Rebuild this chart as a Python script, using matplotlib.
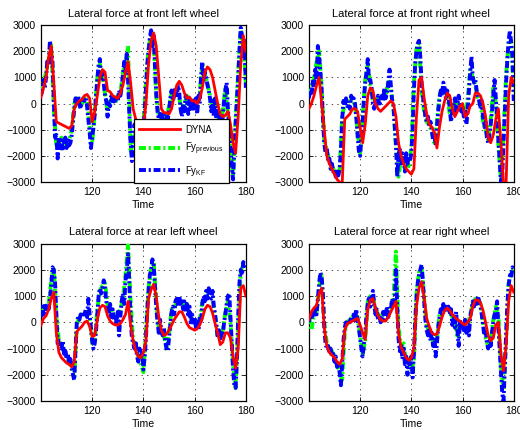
import numpy as np
import matplotlib
matplotlib.use("Agg")
import matplotlib.pyplot as plt

plt.rcParams['font.family'] = ['Liberation Sans', 'DejaVu Sans']
plt.rcParams['mathtext.fontset'] = 'custom'
plt.rcParams['mathtext.rm'] = 'Liberation Sans'
plt.rcParams['mathtext.it'] = 'Liberation Sans'
plt.rcParams['lines.scale_dashes'] = False

titles = ['Lateral force at front left wheel', 'Lateral force at front right wheel',
          'Lateral force at rear left wheel', 'Lateral force at rear right wheel']
legend_labels = ['DYNA', r'Fy$_{\mathrm{previous}}$', r'Fy$_{\mathrm{KF}}$']
x_ticks = [120, 140, 160, 180]
y_ticks = [-3000, -2000, -1000, 0, 1000, 2000, 3000]

# DYNA reference (1 s grid, t = 100..180)
dyna_fl = [250, 600, 1000, 1800, 2200, 800, -700, -750, -800, -850, -900, -950, -850, -200, 0, 100, 150, 300, 350, 200,
           -700, -300, 300, 1000, 1300, 1200, 500, 450, 300, 250, 200, 400, 700, 1200, 1600, 800, -200, -600, -900, -1000,
           -900, 0, 1500, 2400, 2700, 2200, 1000, -200, -350, -350, -400, -200, 300, 700, 850, 700, 400, 200, 250, 100,
           100, 0, 200, 600, 1200, 1400, 1300, 1000, 500, 0, -400, -500, -450, -300, -800, -1500, -1900, -500, 1500, 2600,
           2000]
dyna_fr = [-200, 0, 300, 700, 1000, 0, -1000, -2000, -2300, -2500, -2700, -2900, -3000, -3100, -600, -500, -400, -200, -200, -300,
           -900, -1500, -800, 300, 600, 500, 0, -200, -300, -200, -100, 0, 100, 0, -500, -1500, -2000, -2300, -2500, -2600,
           -2700, -2500, -500, 900, 1000, 200, -400, -800, -900, -1100, -1700, -900, -300, 100, 400, 300, -200, -500, -300, -100,
           0, -500, -400, -100, 0, 400, 400, 300, 0, -500, -1300, -1500, -1200, -600, -200, -1500, -3100, -3100, 300, 1000,
           800]
dyna_rl = [-100, 150, 250, 500, 900, 1150, -400, -1150, -1350, -1450, -1550, -1600, -1700, -1500, -350, -250, -150, 0, 50, -150,
           -550, -500, 100, 550, 650, 600, 250, 50, -50, -100, -100, -50, 100, 300, 800, -100, -700, -1100, -1300, -1350,
           -1150, -700, 900, 1250, 1450, 1000, 200, -300, -500, -450, -300, -100, 100, 250, 400, 400, 200, -50, -200, -250,
           -300, -250, -100, 150, 500, 650, 600, 350, -50, -400, -850, -750, -400, -400, -600, -1300, -1750, -1000, 1300, 1400,
           1000]
dyna_rr = [100, 400, 550, 650, 1100, 1300, -200, -900, -1150, -1250, -1350, -1500, -1600, -1400, -300, -50, 0, 50, 100, 150,
           -100, -400, -650, 500, 850, 900, 550, 250, 100, 50, 50, 200, 400, 600, 800, -400, -950, -1150, -1350, -1450,
           -1350, -1000, 600, 1300, 1550, 950, 150, -150, -400, -470, -450, -150, 200, 450, 550, 450, 300, 200, 100, 50,
           -50, -100, 0, 150, 600, 850, 850, 750, 450, 0, -500, -700, -600, -100, 0, -1200, -1850, -900, 800, 1400,
           1150]

# previous estimator (1 s grid)
prev_fl = [400, 800, 1200, 1700, 2300, -200, -1600, -1500, -1300, -1700, -1500, -1400, -1000, 0, 200, -100, 0, 200, 100, -900,
           -1500, -300, 1000, 1500, 1100, 400, -300, 100, 200, 0, 300, 400, 1200, 1500, 2200, -1800, -1500, -1100, -1300, -1500,
           -700, 800, 2100, 2700, 2400, 300, -500, -500, -400, -600, -100, 400, 400, 400, 200, -300, 0, 300, 0, 100,
           -100, -200, 400, 1500, 1100, 800, 300, -200, 0, -400, -700, -300, 600, -400, -1800, -2700, -600, 1200, 2800, 2300,
           800]
prev_fr = [300, 600, 1000, 1600, 2000, 600, -1400, -1800, -2200, -2400, -2600, -2700, -2600, -500, 0, 0, 100, 200, -100, -1000,
           -1900, -500, 900, 1500, 700, 100, 100, 200, 200, 300, 300, 900, 600, -200, -1700, -2800, -2100, -2300, -2100, -2400,
           -1700, 800, 2100, 2300, 500, -300, -700, -800, -1100, -1500, -700, 300, 600, 500, 300, -400, -200, 0, 100, -200,
           -200, -400, 200, 1300, 1000, 700, 200, 0, -700, -1000, -1400, -600, 600, 0, -1600, -2900, -1200, 1100, 2300, 2400,
           300]
prev_rl = [300, 500, 500, 700, 1600, 2100, 200, -700, -900, -1100, -1300, -1500, -1800, -2100, -100, 200, 300, 400, 400, 200,
           -800, -700, 500, 1200, 1400, 1500, 700, 500, 400, 200, 300, 500, 900, 1800, 3000, 800, -700, -900, -1300, -1600,
           -1900, -300, 1300, 2000, 2300, 800, -200, -400, -500, -1000, -400, 500, 500, 800, 900, 800, 600, 500, 300, 100,
           0, 0, 100, 800, 1000, 1200, 1100, 900, 200, -500, -600, -300, 400, 800, 0, -1600, -2500, -200, 1900, 2300,
           2300]
prev_rr = [200, -300, 300, 400, 1300, 1800, 0, -800, -1000, -1100, -1300, -1600, -1900, -2200, -400, 0, 100, 200, 300, 200,
           -500, -1200, -700, 800, 1000, 1000, 500, 300, 200, 300, 400, 300, 600, 900, 2700, -200, -900, -800, -1600, -1400,
           -1800, -1500, 1100, 1900, 2100, 900, -100, -400, -600, -900, -600, 300, 500, 600, 600, 400, 200, 100, -600, 0,
           -100, -200, -200, 300, 700, 900, 900, 700, 0, -600, -900, -800, 100, 600, 300, -1700, -2600, -600, 1500, 1900,
           2000]

# Kalman filter estimate (0.5 s grid)
kf_fl = [300, 500, 900, 600, 1000, 1700, 1500, 2400, 2000, 1600, 200, -1300, -1200, -2100, -1300, -1700, -1400, -1800, -1500, -1300,
         -1700, -1400, -1600, -1500, -1200, -700, -200, 200, -100, 300, 0, -200, 100, 200, 100, 200, -100, -600, -1100, -1700,
         -1300, -900, -400, 300, 900, 1500, 1700, 900, 1200, 800, 300, 100, -500, 0, -100, 300, 0, 200, 100, 300,
         100, 500, 300, 600, 1100, 1600, 1200, 1900, 900, -400, -1500, -2200, -1300, -800, -1000, -1200, -1500, -1300, -1600, -1200,
         -900, -300, 600, 1500, 2000, 2500, 2800, 2200, 2600, 1500, 400, -300, -600, -400, -700, -300, -500, -700, -400, -600,
         -300, 200, 500, 100, 300, 600, 200, 700, 400, -200, -500, 0, -300, 300, 100, -400, 200, -200, 200, -100,
         -300, 200, -400, 300, 0, 1000, 1600, 900, 1200, 1000, 700, 500, 200, -300, 100, -500, 200, -700, -200, -400,
         -600, -800, -500, 100, 500, 800, -200, -1000, -1600, -2400, -2900, -1800, -800, 100, 1000, 2000, 2900, 2600, 1700, 2400,
         600]
kf_fr = [200, 500, 300, 900, 500, 1300, 900, 2200, 1800, 1200, 500, -600, -1500, -1900, -1700, -2200, -2100, -2500, -2300, -2600,
         -2500, -2800, -2600, -2750, -2500, -1800, -600, 100, -100, 200, -100, 0, -200, 300, 100, 200, 0, -500, -1200, -1800,
         -2000, -1300, -700, 200, 800, 1200, 1700, 800, 900, 600, 0, -200, 200, 0, 300, -100, 100, 300, 100, 600,
         200, 400, 800, 1300, 700, 100, 0, -800, -1500, -2800, -2000, -1700, -2400, -1900, -2100, -2600, -1900, -2300, -2000, -2200,
         -1900, -1000, 500, 1500, 2000, 2300, 2400, 1800, 800, 300, -100, -500, -700, -500, -900, -700, -1000, -1400, -1200, -1600,
         -900, -300, 200, 500, 300, 800, 600, 200, 500, 300, -200, -700, -300, -100, 200, -300, 0, 300, -100, -300,
         -100, -500, -200, -800, -300, 500, 1200, 1800, 1000, 800, 900, 500, 300, 100, -200, 100, -500, -900, -700, -1300,
         -1500, -1200, -800, -300, 300, 900, 200, -500, -1400, -2200, -3000, -2700, -1500, -200, 800, 1700, 2400, 2800, 2300, 1800,
         100]
kf_rl = [200, 600, 300, 700, 400, 600, 500, 900, 1400, 2100, 2000, 1500, 300, -800, -700, -800, -1000, -700, -1200, -1000,
         -1400, -1200, -1600, -1400, -1700, -2000, -2200, -1000, 0, 200, 100, 300, 200, 400, 300, 500, 200, 900, 300, -200,
         -700, -1000, -800, -300, 300, 1000, 1300, 1100, 1300, 1600, 1300, 800, 600, 300, 700, 200, 500, 100, 300, 0,
         400, -500, 200, 800, 1100, 700, 1600, 2000, 2600, 1500, 200, -600, -800, -1000, -700, -1300, -1500, -1000, -1400, -1100,
         -1800, -1300, -600, 500, 1200, 1800, 2000, 2400, 2200, 1400, 600, 0, -400, 100, -300, -500, -200, -700, -1000, -1100,
         -600, -100, 400, 600, 300, 800, 900, 600, 1000, 700, 900, 500, 800, 400, 700, 200, 600, -100, 300, 0,
         200, -200, 100, -300, 200, 0, 700, 1000, 800, 1200, 900, 1300, 1000, 900, 1200, 600, 300, -100, -600, -300,
         -700, -400, -500, 0, 300, 700, 1000, 1100, 200, -800, -1800, -2400, -2500, -1500, 200, 1500, 2000, 1800, 2300, 2200,
         2000]
kf_rr = [0, 300, 100, 400, 200, 500, 300, 900, 1500, 1900, 1700, 1000, -200, -800, -1000, -900, -1200, -1000, -1300, -1200,
         -1500, -1300, -1700, -1600, -1900, -2400, -1600, -700, -200, 0, -100, 100, 0, 200, 100, 300, 0, 500, 100, -200,
         -600, -1000, -1300, -800, -400, 300, 700, 1000, 600, 900, 1200, 700, 300, 500, 100, 300, 0, 200, 400, 100,
         300, 600, 200, 400, 500, 900, 700, 700, 2000, 600, -600, -1100, -800, -1400, -1000, -1600, -1300, -2000, -1500, -1700,
         -1300, -2100, -1200, 0, 900, 1500, 1800, 2000, 2200, 1600, 800, 100, -300, -500, -200, -700, -400, -900, -600, -1300,
         -800, -200, 200, 500, 300, 700, 400, 700, 500, 600, 300, 500, -100, 300, -200, 400, -300, -900, 100, -200,
         0, -300, 100, -400, 0, -500, 200, 500, 800, 600, 900, 700, 1000, 800, 600, 300, -100, -500, -300, -800,
         -1000, -700, -900, -400, 0, 300, 400, 800, -200, -1000, -1900, -2700, -3000, -1800, -500, 700, 1400, 1800, 1700, 2100,
         2000]

t_dyna = np.arange(100, 181, 1.0)
t_kf = np.arange(100, 180.5, 0.5)

dyna_all = [dyna_fl, dyna_fr, dyna_rl, dyna_rr]
prev_all = [prev_fl, prev_fr, prev_rl, prev_rr]
kf_all = [kf_fl, kf_fr, kf_rl, kf_rr]

fig = plt.figure(figsize=(5.2, 4.3), dpi=100)
positions = [[0.0788, 0.5767, 0.394, 0.365], [0.594, 0.5767, 0.394, 0.365],
             [0.0788, 0.0674, 0.394, 0.366], [0.594, 0.0674, 0.394, 0.366]]

for i in range(4):
    ax = fig.add_axes(positions[i])
    d = np.array(dyna_all[i], dtype=float)
    p = np.array(prev_all[i], dtype=float)
    k = np.array(kf_all[i], dtype=float)
    l1, = ax.plot(t_dyna[:len(d)], d, color='#ff0000', lw=2.0, zorder=5)
    l2, = ax.plot(t_dyna[:len(p)], p, color='#00ff00', lw=2.8, dashes=(5, 2, 1.5, 2), zorder=3)
    l3, = ax.plot(t_kf[:len(k)], k, color='#0000ff', lw=2.8, dashes=(5, 2, 1.5, 2), zorder=4)
    ax.set_xlim(100, 180)
    ax.set_ylim(-3000, 3000)
    ax.set_xticks(x_ticks)
    ax.set_yticks(y_ticks)
    ax.set_yticklabels([str(v).replace('-', '\u2212') for v in y_ticks])
    ax.tick_params(direction='in', top=True, right=True, labelsize=7.6, length=3, width=0.6, pad=3.5)
    ax.grid(True, linestyle=(0, (1, 3)), color='#333333', linewidth=0.6)
    for s in ax.spines.values():
        s.set_linewidth(0.9)
    ax.set_title(titles[i], fontsize=8, pad=6)
    ax.set_xlabel('Time', fontsize=7.6, labelpad=2)
    if i == 0:
        leg = ax.legend([l1, l2, l3], legend_labels, loc='lower left', bbox_to_anchor=(0.454, -0.006),
                        borderaxespad=0, fontsize=7, frameon=True, fancybox=False, edgecolor='k', framealpha=1,
                        handlelength=4.2, labelspacing=0.65, borderpad=0.55, handletextpad=0.5)
        leg.get_frame().set_linewidth(0.9)
        leg.set_zorder(10)

fig.savefig('out.png', dpi=100)
